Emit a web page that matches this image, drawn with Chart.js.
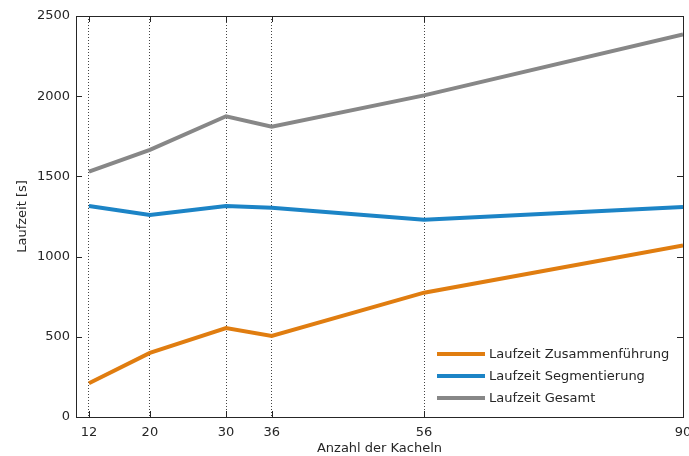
<!DOCTYPE html>
<html>
<head>
<meta charset="utf-8">
<script src="https://cdn.jsdelivr.net/npm/chart.js@4/dist/chart.umd.min.js"></script>
<style>
  html, body { margin: 0; padding: 0; background: #fff; }
  #wrap { width: 689px; height: 456px; }
</style>
</head>
<body>
<div id="wrap"><canvas id="laufzeitChart"></canvas></div>
<script>
// Anzahl der Kacheln
const kacheln = [12, 20, 30, 36, 56, 90];
const xTicks = [12, 20, 30, 36, 56, 90];
const yTicks = [0, 500, 1000, 1500, 2000, 2500];

// Laufzeiten in Sekunden
const zusammenfuehrung = [210, 400, 555, 505, 775, 1070];
const segmentierung = [1315, 1260, 1315, 1305, 1230, 1310];
const gesamt = [1530, 1665, 1875, 1810, 2005, 2385];

const seriesNames = ['Laufzeit Zusammenführung', 'Laufzeit Segmentierung', 'Laufzeit Gesamt'];
const seriesColors = ['#E07D10', '#1C84C6', '#878787'];

const textColor = '#262626';
const fontFamily = '"DejaVu Sans", sans-serif';
const fontSize = 13;

function toPoints(values) {
    return kacheln.map((k, i) => ({ x: k, y: values[i] }));
}

// box, inward ticks and legend inside the plot
const frameAndLegend = {
    id: 'frameAndLegend',
    afterDraw(chart) {
        const ctx = chart.ctx;
        const a = chart.chartArea;
        const xs = chart.scales.x;
        const ys = chart.scales.y;
        ctx.save();
        ctx.strokeStyle = '#262626';
        ctx.lineWidth = 1;
        ctx.setLineDash([]);
        ctx.strokeRect(Math.round(a.left) + 0.5, Math.round(a.top) + 0.5,
            Math.round(a.right - a.left), Math.round(a.bottom - a.top));

        ctx.beginPath();
        xTicks.forEach(v => {
            const px = Math.round(xs.getPixelForValue(v)) + 0.5;
            ctx.moveTo(px, a.bottom);
            ctx.lineTo(px, a.bottom - 6);
            ctx.moveTo(px, a.top);
            ctx.lineTo(px, a.top + 6);
        });
        yTicks.forEach(v => {
            const py = Math.round(ys.getPixelForValue(v)) + 0.5;
            ctx.moveTo(a.left, py);
            ctx.lineTo(a.left + 6, py);
            ctx.moveTo(a.right, py);
            ctx.lineTo(a.right - 6, py);
        });
        ctx.stroke();

        // Legend
        ctx.font = fontSize + 'px ' + fontFamily;
        ctx.textBaseline = 'middle';
        ctx.fillStyle = textColor;
        const lx = 437, lineLen = 48, rowH = 22, ly = 354;
        chart.data.datasets.forEach((ds, i) => {
            const y = ly + i * rowH;
            ctx.strokeStyle = ds.borderColor;
            ctx.lineWidth = 4;
            ctx.beginPath();
            ctx.moveTo(lx, y);
            ctx.lineTo(lx + lineLen, y);
            ctx.stroke();
            ctx.fillText(ds.label, lx + lineLen + 4, y + 1);
        });
        ctx.restore();
    }
};

new Chart(document.getElementById('laufzeitChart'), {
    type: 'line',
    data: {
        datasets: [
            { label: seriesNames[0], data: toPoints(zusammenfuehrung), borderColor: seriesColors[0] },
            { label: seriesNames[1], data: toPoints(segmentierung), borderColor: seriesColors[1] },
            { label: seriesNames[2], data: toPoints(gesamt), borderColor: seriesColors[2] }
        ]
    },
    options: {
        responsive: true,
        maintainAspectRatio: false,
        animation: false,
        layout: { padding: { top: 16, right: 6, left: 0, bottom: 0 } },
        elements: {
            line: { borderWidth: 4, tension: 0, fill: false },
            point: { radius: 0 }
        },
        plugins: {
            legend: { display: false },
            tooltip: { enabled: false }
        },
        scales: {
            x: {
                type: 'linear',
                min: 10.3,
                max: 90,
                afterBuildTicks: scale => { scale.ticks = xTicks.map(v => ({ value: v })); },
                afterFit: scale => {
                    scale.height = 39;
                    scale.paddingLeft = 0;
                    scale.paddingRight = 0;
                },
                grid: {
                    drawTicks: false,
                    color: ctx => (ctx.tick && ctx.tick.value === 90) ? 'rgba(0,0,0,0)' : '#444',
                    lineWidth: 1
                },
                border: { display: false, dash: [1, 2] },
                ticks: {
                    padding: 8,
                    color: textColor,
                    font: { family: fontFamily, size: fontSize },
                    autoSkip: false,
                    maxRotation: 0,
                    callback: v => String(v)
                },
                title: {
                    display: true,
                    text: 'Anzahl der Kacheln',
                    color: textColor,
                    font: { family: fontFamily, size: fontSize },
                    padding: { top: 0, bottom: 0 }
                }
            },
            y: {
                min: 0,
                max: 2500,
                afterBuildTicks: scale => { scale.ticks = yTicks.map(v => ({ value: v })); },
                afterFit: scale => {
                    scale.width = 76;
                    scale.paddingTop = 0;
                    scale.paddingBottom = 0;
                },
                grid: { display: false, drawTicks: false },
                border: { display: false },
                ticks: {
                    padding: 6,
                    color: textColor,
                    font: { family: fontFamily, size: fontSize },
                    callback: v => String(v)
                },
                title: {
                    display: true,
                    text: 'Laufzeit [s]',
                    color: textColor,
                    font: { family: fontFamily, size: fontSize },
                    padding: { top: 15, bottom: 8 }
                }
            }
        }
    },
    plugins: [frameAndLegend]
});
</script>
</body>
</html>
